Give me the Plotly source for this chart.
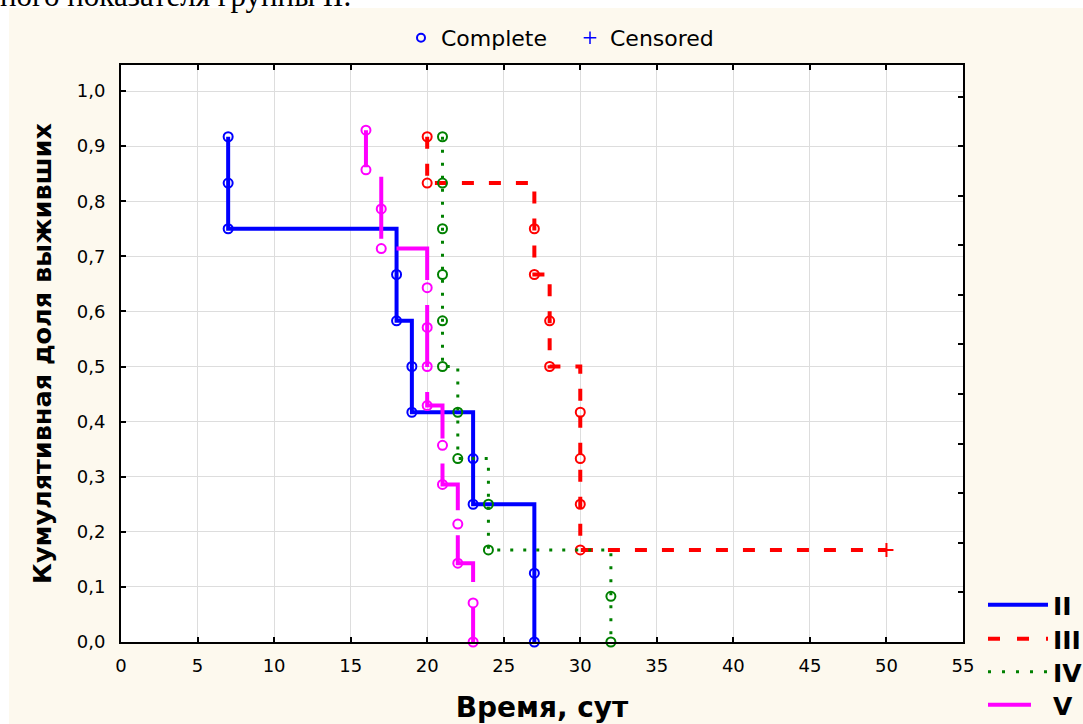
import plotly.graph_objects as go

# ---------------- data ----------------
groups = ["II", "III", "IV", "V"]

# event times (one per plotted "complete" circle) and cumulative proportion surviving
t_II = [7, 7, 7, 18, 18, 19, 19, 23, 23, 27, 27]
s_II = [0.917, 0.833, 0.750, 0.667, 0.583, 0.500, 0.417, 0.333, 0.250, 0.125, 0.000]

t_III = [20, 20, 27, 27, 28, 28, 30, 30, 30, 30]
s_III = [0.917, 0.833, 0.750, 0.667, 0.583, 0.500, 0.417, 0.333, 0.250, 0.167]
cens_t_III = [50]
cens_s_III = [0.167]

t_IV = [21, 21, 21, 21, 21, 21, 22, 22, 24, 24, 32, 32]
s_IV = [0.917, 0.833, 0.750, 0.667, 0.583, 0.500, 0.417, 0.333, 0.250, 0.167, 0.083, 0.000]

t_V = [16, 16, 17, 17, 20, 20, 20, 20, 21, 21, 22, 22, 23, 23]
s_V = [0.929, 0.857, 0.786, 0.714, 0.643, 0.571, 0.500, 0.429, 0.357, 0.286, 0.214, 0.143, 0.071, 0.000]

x_ticks = [0, 5, 10, 15, 20, 25, 30, 35, 40, 45, 50, 55]
y_ticks = [0.0, 0.1, 0.2, 0.3, 0.4, 0.5, 0.6, 0.7, 0.8, 0.9, 1.0]

# ---------------- styles ----------------
colors = {"II": "#0000FF", "III": "#FF0000", "IV": "#008000", "V": "#FF00FF"}
widths = {"II": 4, "III": 4, "IV": 3, "V": 4}
dashes = {
    "II": "solid",
    "III": "12px,15px",
    "IV": "3px,10px",
    "V": "37px,25px,62px,25px,62px,25px,62px,25px,62px,25px,62px,25px,62px,25px,62px,25px,62px,25px",
}
legend_dashes = {"II": "solid", "III": "12px,17px", "IV": "3px,11px", "V": "43px,20px"}
legend_ids = {"II": "legend2", "III": "legend3", "IV": "legend4", "V": "legend5"}
legend_centers = {"II": 605, "III": 639, "IV": 672, "V": 705}

data = {
    "II": (t_II, s_II, [], []),
    "III": (t_III, s_III, cens_t_III, cens_s_III),
    "IV": (t_IV, s_IV, [], []),
    "V": (t_V, s_V, [], []),
}


def step_path(ts, ss, ct, cs):
    xs = [ts[0]]
    ys = [ss[0]]
    for t in sorted(set(ts)):
        xs.append(t)
        ys.append(min(s for tt, s in zip(ts, ss) if tt == t))
    for t, s in zip(ct, cs):
        xs.append(t)
        ys.append(s)
    return xs, ys


fig = go.Figure()

for g in groups:
    ts, ss, ct, cs = data[g]
    px, py = step_path(ts, ss, ct, cs)
    fig.add_trace(go.Scatter(
        x=px, y=py, mode="lines", line=dict(color=colors[g], width=widths[g], dash=dashes[g], shape="hv"),
        showlegend=False, hoverinfo="skip"))
    fig.add_trace(go.Scatter(
        x=ts, y=ss, mode="markers", cliponaxis=False,
        marker=dict(symbol="circle-open", size=9, color=colors[g], line=dict(width=2, color=colors[g])),
        showlegend=False, name=g))
    if ct:
        fig.add_trace(go.Scatter(
            x=ct, y=cs, mode="markers", cliponaxis=False,
            marker=dict(symbol="cross-thin", size=10, color=colors[g], line=dict(width=2, color=colors[g])),
            showlegend=False))

# top legend: Complete / Censored
fig.add_trace(go.Scatter(x=[None], y=[None], mode="markers", name="Complete",
                         marker=dict(symbol="circle-open", size=8, color="#0000FF", line=dict(width=2, color="#0000FF")),
                         legend="legend"))
fig.add_trace(go.Scatter(x=[None], y=[None], mode="markers", name="Censored",
                         marker=dict(symbol="cross-thin", size=9, color="#0000FF", line=dict(width=1.5, color="#0000FF")),
                         legend="legend"))

# group legend (bottom right), one legend box per group
for g in groups:
    fig.add_trace(go.Scatter(x=[None], y=[None], mode="lines", name="<b>" + g + "</b>",
                             line=dict(color=colors[g], width=widths[g], dash=legend_dashes[g]),
                             legend=legend_ids[g]))

# helper trace for the right-hand frame ticks
fig.add_trace(go.Scatter(x=[None], y=[None], yaxis="y2", showlegend=False, hoverinfo="skip"))

W, H = 1083, 724
ML, MR, MT, MB = 121, 120, 65, 82
pw, ph = W - ML - MR, H - MT - MB


def px2x(p):
    return (p - ML) / pw


def px2y(p):
    return (H - MB - p) / ph


ytop = 1.0472

group_legends = {
    legend_ids[g]: dict(x=px2x(983), xanchor="left", y=px2y(legend_centers[g]), yanchor="middle",
                        font=dict(size=25), bgcolor="rgba(0,0,0,0)", itemwidth=60)
    for g in groups
}

fig.update_layout(
    width=W, height=H, autosize=False,
    margin=dict(l=ML, r=MR, t=MT, b=MB, pad=0, autoexpand=False),
    paper_bgcolor="#FDF9EE", plot_bgcolor="white",
    font=dict(family="DejaVu Sans", color="black"),
    separators=", ",
    xaxis=dict(range=[0, 55], tickvals=x_ticks, showgrid=True, gridcolor="#DDDDDD", gridwidth=1,
               showline=True, linecolor="black", linewidth=2, mirror="ticks", automargin=False,
               ticks="inside", ticklen=5, tickwidth=2, tickcolor="black", zeroline=False,
               tickfont=dict(size=18), ticklabelstandoff=6,
               title=dict(text="<b>Время, сут</b>", font=dict(size=28), standoff=23)),
    yaxis=dict(range=[0, ytop], tickvals=y_ticks, tickformat=".1f", showgrid=True, gridcolor="#DDDDDD",
               gridwidth=1, showline=True, linecolor="black", linewidth=2, mirror=True, automargin=False,
               ticks="inside", ticklen=5, tickwidth=2, tickcolor="black", zeroline=False,
               tickfont=dict(size=18), ticklabelstandoff=10,
               title=dict(text="<b>Кумулятивная доля выживших</b>", font=dict(size=25.5), standoff=18)),
    yaxis2=dict(range=[0, ytop], overlaying="y", side="right", tick0=0, dtick=0.09, automargin=False,
                ticks="inside", ticklen=5, tickwidth=2, tickcolor="black",
                showticklabels=False, showgrid=False, zeroline=False, showline=False),
    legend=dict(orientation="h", x=px2x(401), xanchor="left", y=px2y(38), yanchor="middle",
                font=dict(size=22), bgcolor="rgba(0,0,0,0)", itemwidth=30,
                entrywidth=124, entrywidthmode="pixels"),
    shapes=[
        dict(type="rect", xref="paper", yref="paper", x0=px2x(-5), x1=px2x(W + 5), y0=px2y(8), y1=px2y(-5),
             fillcolor="white", line=dict(width=0), layer="below"),
        dict(type="rect", xref="paper", yref="paper", x0=px2x(-5), x1=px2x(9), y0=px2y(H + 5), y1=px2y(-5),
             fillcolor="white", line=dict(width=0), layer="below"),
    ],
    annotations=[
        dict(text="ного показателя группы II.", xref="paper", yref="paper", x=px2x(353), xanchor="right",
             y=px2y(15), yanchor="bottom", showarrow=False,
             font=dict(family="Liberation Serif", size=31, color="black")),
    ],
    **group_legends,
)

fig.write_html("out.html", config={"displayModeBar": False},
               post_script="document.body.style.margin='0px';")
